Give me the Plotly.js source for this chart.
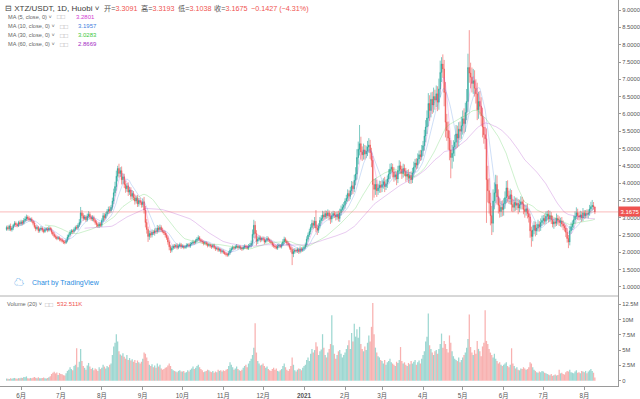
<!DOCTYPE html>
<html><head><meta charset="utf-8">
<script src="https://cdn.plot.ly/plotly-3.0.1.min.js"></script>
<style>html,body{margin:0;padding:0;background:#fff;}#chart{width:640px;height:399px;}</style>
</head><body><div id="chart"></div>
<script>
// ---------- DATA (daily, XTZ/USDT, Huobi) ----------
const startDate = '2020-05-21';
const firstOpen = 2.66;
const close = [
// 2020-05 (21-31)
2.72,2.68,2.76,2.65,2.70,2.78,2.84,2.80,2.77,2.86,2.82,
// 2020-06
2.88,2.84,2.92,2.96,3.02,2.98,2.94,2.96,2.90,2.84,2.74,2.68,2.72,2.62,2.66,2.70,2.64,2.60,2.66,2.68,2.64,2.70,2.66,2.58,2.52,2.46,2.44,2.40,2.42,2.38,
// 2020-07
2.36,2.32,2.30,2.28,2.34,2.44,2.50,2.58,2.62,2.60,2.66,2.72,2.70,2.78,2.86,3.14,3.06,2.98,3.02,2.94,3.04,3.10,3.02,2.96,3.00,2.92,2.86,2.80,2.76,2.82,2.78,
// 2020-08
2.92,3.06,3.00,3.10,3.18,3.24,3.20,3.30,3.48,3.72,3.90,4.20,4.42,4.28,4.36,4.10,4.18,3.96,3.84,3.92,3.74,3.80,3.62,3.70,3.58,3.48,3.56,3.40,3.50,3.44,3.38,
// 2020-09
3.46,3.22,2.86,2.66,2.46,2.54,2.50,2.58,2.56,2.62,2.60,2.70,2.66,2.72,2.64,2.60,2.56,2.50,2.42,2.30,2.16,2.06,2.12,2.18,2.16,2.20,2.14,2.18,2.22,2.16,
// 2020-10
2.18,2.14,2.16,2.20,2.22,2.18,2.24,2.26,2.30,2.28,2.34,2.38,2.42,2.36,2.32,2.30,2.26,2.28,2.24,2.20,2.22,2.18,2.16,2.20,2.14,2.10,2.12,2.06,2.08,2.02,2.04,
// 2020-11
2.00,1.96,1.94,1.92,1.98,2.06,2.10,2.14,2.12,2.16,2.18,2.14,2.16,2.12,2.10,2.14,2.18,2.16,2.12,2.18,2.20,2.26,2.52,2.78,2.54,2.32,2.38,2.42,2.36,2.40,
// 2020-12
2.38,2.30,2.34,2.40,2.36,2.32,2.28,2.22,2.18,2.16,2.12,2.18,2.20,2.16,2.22,2.30,2.38,2.32,2.26,2.22,2.14,2.08,1.96,2.02,2.06,2.04,2.08,2.02,2.10,2.06,2.10,
// 2021-01
2.14,2.22,2.38,2.50,2.60,2.72,2.84,2.78,2.90,2.70,2.64,2.76,2.92,2.98,3.08,3.02,3.12,3.06,3.14,3.04,2.96,3.06,3.12,3.08,3.02,3.10,2.98,3.14,3.24,3.30,3.36,
// 2021-02
3.48,3.56,3.70,3.62,3.78,3.92,3.84,4.08,4.26,4.74,4.98,5.14,4.90,4.82,4.96,4.84,4.92,5.04,5.10,4.88,4.66,3.96,3.82,3.96,3.78,3.86,3.94,3.88,
// 2021-03
3.96,4.04,3.90,3.98,4.12,4.26,4.40,4.46,4.32,4.18,4.24,4.12,4.36,4.50,4.40,4.28,4.42,4.34,4.20,4.26,4.14,4.22,4.10,4.30,4.46,4.58,4.52,4.70,4.82,4.76,4.94,
// 2021-04
5.08,5.36,5.62,5.88,6.30,6.10,6.42,6.26,6.50,6.40,6.58,6.34,6.72,7.20,7.44,7.30,6.62,5.76,5.52,5.30,4.96,4.74,4.86,5.04,5.18,5.42,5.30,5.56,5.50,5.66,
// 2021-05
5.86,5.72,6.04,6.36,7.34,7.18,7.06,6.88,6.96,6.74,6.58,6.12,6.36,6.22,5.94,5.62,5.40,5.28,4.10,3.78,3.42,3.06,2.84,3.48,3.72,3.96,3.60,3.36,3.18,3.30,3.24,
// 2021-06
3.40,3.58,3.86,3.62,3.54,3.66,3.38,3.30,3.44,3.36,3.42,3.28,3.38,3.46,3.40,3.24,3.18,3.26,3.12,3.02,2.62,2.46,2.64,2.78,2.62,2.70,2.80,2.74,2.86,2.92,
// 2021-07
2.98,2.90,3.04,3.10,2.96,3.06,2.94,2.82,2.88,2.84,2.98,2.92,2.86,2.90,2.82,2.76,2.70,2.58,2.40,2.30,2.62,2.74,2.82,2.94,3.04,3.14,3.06,3.02,3.08,3.00,3.14,
// 2021-08 (1-9)
3.06,3.12,3.10,3.1363,3.25,3.32,3.353,3.3102,3.1675
];
// upper wick length above the candle body
const wickUp = [
.05,.06,.04,.07,.05,.04,.06,.05,.04,.05,.06,
.06,.05,.07,.08,.07,.05,.06,.04,.05,.04,.06,.05,.06,.04,.05,.06,.04,.05,.06,.04,.05,.06,.04,.05,.04,.06,.05,.04,.05,.04,
.04,.05,.04,.05,.06,.07,.05,.06,.05,.04,.06,.05,.07,.06,.10,.17,.08,.07,.06,.05,.08,.09,.06,.05,.07,.06,.05,.06,.05,.06,.05,
.06,.08,.07,.06,.07,.08,.09,.07,.10,.12,.14,.16,.08,.14,.10,.12,.10,.09,.11,.08,.10,.09,.08,.10,.07,.09,.08,.10,.07,.08,.06,
.10,.14,.12,.10,.08,.09,.07,.08,.06,.07,.08,.09,.07,.08,.06,.07,.05,.06,.05,.06,.05,.06,.07,.05,.06,.05,.06,.05,.06,.05,
.05,.04,.05,.06,.04,.05,.06,.05,.06,.04,.05,.06,.07,.05,.04,.05,.04,.05,.04,.05,.06,.04,.05,.04,.05,.04,.05,.04,.05,.04,.05,
.04,.05,.04,.05,.06,.07,.05,.06,.04,.05,.06,.04,.05,.04,.05,.06,.05,.04,.05,.06,.07,.08,.14,.16,.12,.10,.08,.07,.06,.05,
.06,.05,.06,.07,.05,.04,.05,.04,.05,.04,.05,.06,.05,.04,.06,.08,.07,.05,.04,.05,.04,.05,.06,.08,.06,.05,.06,.05,.07,.05,.06,
.05,.06,.08,.07,.08,.09,.10,.08,.12,.32,.10,.08,.10,.09,.12,.10,.09,.08,.10,.07,.09,.11,.08,.07,.09,.08,.10,.12,.11,.10,.09,
.08,.10,.12,.09,.11,.14,.12,.16,.20,.24,.22,.54,.20,.16,.18,.14,.16,.18,.20,.15,.14,.12,.16,.18,.14,.12,.13,.12,
.12,.10,.14,.12,.10,.14,.16,.12,.10,.14,.12,.10,.14,.16,.12,.10,.14,.12,.10,.12,.14,.10,.12,.14,.16,.12,.14,.16,.12,.14,.16,
.14,.18,.20,.22,.30,.24,.20,.22,.26,.20,.24,.22,.30,.34,.20,.28,.26,.30,.24,.26,.22,.28,.24,.20,.22,.26,.24,.20,.22,.26,
.24,.30,.28,.36,.40,1.08,.30,.28,.34,.30,.26,.32,.28,.30,.26,.24,.28,.22,.30,.40,.36,.30,.28,.34,.30,.28,.26,.22,.20,.18,.20,
.16,.18,.20,.22,.16,.18,.14,.16,.18,.14,.16,.12,.14,.16,.14,.12,.14,.12,.14,.12,.10,.12,.14,.12,.10,.12,.14,.10,.12,.14,
.10,.12,.14,.10,.12,.14,.10,.12,.10,.12,.14,.10,.12,.10,.12,.10,.08,.10,.12,.10,.14,.12,.10,.12,.14,.16,.12,.10,.12,.10,.14,
.08,.10,.12,.10,.12,.14,.16,.10,.0091
];
// lower wick length below the candle body
const wickDown = [
.04,.05,.06,.04,.05,.06,.04,.07,.05,.04,.05,
.05,.06,.04,.05,.06,.07,.05,.06,.04,.06,.05,.07,.04,.06,.05,.04,.06,.05,.04,.05,.06,.04,.05,.06,.05,.04,.06,.05,.04,.06,
.05,.04,.06,.05,.04,.05,.06,.04,.05,.06,.04,.05,.04,.06,.05,.06,.08,.07,.05,.06,.05,.06,.07,.05,.06,.05,.06,.07,.05,.06,.05,
.05,.06,.08,.05,.06,.07,.08,.06,.07,.09,.10,.12,.15,.12,.10,.14,.12,.10,.12,.09,.11,.08,.10,.09,.08,.10,.07,.09,.08,.07,.09,
.08,.10,.14,.12,.16,.10,.08,.07,.06,.08,.07,.06,.08,.07,.06,.05,.06,.07,.06,.08,.10,.08,.06,.05,.06,.05,.06,.05,.04,.06,
.04,.05,.04,.05,.06,.04,.05,.04,.05,.06,.04,.05,.06,.05,.04,.05,.06,.04,.05,.06,.04,.05,.06,.04,.05,.06,.04,.05,.04,.06,.05,
.05,.04,.06,.05,.04,.05,.06,.04,.05,.04,.05,.06,.04,.05,.06,.04,.05,.06,.04,.05,.04,.06,.07,.10,.14,.12,.08,.06,.07,.05,
.05,.06,.04,.05,.06,.05,.04,.06,.05,.06,.04,.05,.06,.04,.05,.04,.06,.05,.06,.05,.06,.08,.33,.10,.06,.05,.06,.07,.05,.06,.05,
.06,.05,.06,.07,.06,.08,.07,.10,.08,.12,.14,.08,.07,.09,.08,.10,.07,.09,.08,.12,.14,.10,.08,.09,.10,.08,.09,.10,.08,.07,.10,
.10,.08,.10,.14,.09,.12,.16,.10,.14,.16,.20,.18,.22,.18,.14,.16,.12,.14,.16,.18,.20,.46,.24,.16,.18,.12,.14,.16,
.14,.12,.16,.10,.12,.10,.14,.12,.16,.14,.10,.18,.12,.10,.14,.16,.12,.14,.16,.12,.14,.16,.12,.10,.12,.14,.12,.10,.14,.12,.10,
.16,.14,.18,.20,.24,.30,.20,.26,.22,.28,.20,.26,.22,.24,.28,.26,.40,.44,.30,.34,.30,.60,.32,.24,.26,.20,.28,.24,.26,.22,
.26,.28,.24,.22,.30,.28,.32,.26,.30,.24,.28,.30,.26,.24,.28,.30,.26,.30,1.25,.34,.30,.28,.34,.26,.24,.30,.22,.24,.18,.16,.20,
.18,.14,.16,.18,.14,.16,.20,.14,.12,.16,.14,.18,.12,.14,.16,.14,.18,.12,.14,.16,.20,.30,.14,.12,.16,.12,.10,.14,.12,.10,
.12,.10,.08,.12,.10,.08,.12,.10,.14,.10,.08,.12,.10,.12,.10,.12,.10,.14,.12,.18,.10,.08,.10,.12,.10,.08,.12,.10,.08,.12,.10,
.10,.08,.10,.12,.08,.10,.12,.08,.0637
];
// daily volume, millions
const volumeM = [
.35,.30,.28,.40,.32,.38,.45,.36,.30,.42,.38,
.50,.45,.60,.55,.70,.40,.35,.45,.38,.50,.62,.48,.40,.55,.42,.38,.46,.52,.40,.36,.44,.58,.72,1.10,1.30,1.45,1.20,1.35,.95,1.25,
1.10,1.05,.90,.85,1.20,1.60,1.80,2.20,1.90,1.70,2.40,2.60,5.30,2.20,3.10,5.20,3.20,2.40,2.10,1.80,2.50,2.90,2.30,1.90,2.10,1.70,2.00,1.85,1.60,2.20,1.90,
2.10,2.60,2.30,2.00,2.40,2.20,2.60,2.80,4.20,5.60,6.20,7.60,6.40,4.80,4.30,4.10,4.50,3.90,3.60,4.20,3.40,3.70,3.30,3.50,3.10,3.40,2.90,3.30,3.00,2.80,3.10,
3.60,4.60,4.40,3.80,3.20,2.60,2.40,2.70,2.20,2.50,2.10,2.80,2.30,2.60,2.00,1.80,1.90,2.10,2.20,2.50,2.80,2.40,1.90,1.70,1.60,1.50,1.40,1.60,1.70,1.50,
1.50,1.60,1.30,1.40,1.70,1.50,1.80,2.00,2.30,1.90,2.10,2.40,2.60,2.20,1.90,1.70,1.40,1.50,1.60,1.80,1.70,1.50,1.40,1.60,1.30,1.50,1.40,1.80,1.60,1.70,1.50,
1.70,1.60,1.80,1.90,2.40,3.00,2.60,2.20,1.80,2.00,2.30,1.90,1.70,1.60,1.80,2.10,2.40,2.60,2.20,2.80,3.20,3.60,4.20,5.40,9.40,4.60,3.20,2.80,2.50,2.60,
2.80,2.40,2.10,2.30,1.90,1.70,1.60,1.90,2.10,1.80,2.00,1.60,1.50,1.70,1.90,2.40,2.80,2.20,1.80,1.60,1.90,2.40,3.80,2.60,1.70,1.50,1.80,2.00,1.90,1.70,2.10,
2.40,2.60,3.40,3.80,3.20,4.40,5.20,4.60,5.00,6.30,5.60,4.20,4.80,5.10,7.60,5.40,4.20,3.80,4.60,5.20,6.00,10.70,5.80,4.40,3.60,4.20,4.80,5.00,4.40,3.80,4.20,
4.60,5.20,5.80,6.60,5.20,7.80,6.40,9.30,7.20,8.40,7.00,8.80,6.00,5.20,4.80,5.60,5.00,6.20,7.40,6.40,8.80,12.70,7.60,5.40,4.60,4.00,3.80,3.40,
3.20,2.80,3.40,2.60,3.00,3.20,3.60,3.00,2.80,2.60,2.40,3.10,2.90,3.40,5.50,3.20,2.80,3.00,2.60,2.40,2.90,2.70,3.20,2.80,3.10,3.40,2.60,3.00,3.30,2.80,3.60,
4.20,4.80,6.40,7.20,11.00,5.80,5.20,4.60,4.20,4.80,5.00,4.40,5.20,6.00,7.70,5.40,6.50,6.00,5.20,4.60,7.40,6.20,4.80,4.00,3.60,3.40,3.20,3.80,3.00,3.40,
3.80,4.20,4.60,5.40,6.80,10.80,5.50,4.60,4.20,5.00,4.40,6.50,5.20,4.80,4.00,5.60,6.20,11.50,6.50,6.00,5.20,4.60,4.20,3.80,4.40,3.60,3.20,2.80,3.00,2.60,2.40,
2.60,2.80,3.00,2.40,2.20,2.60,5.30,2.80,2.40,2.00,2.20,1.80,1.70,2.00,1.90,2.20,2.00,1.80,1.90,2.20,3.00,2.80,2.20,1.80,1.60,1.40,1.30,1.50,1.40,1.60,
1.50,1.30,1.20,1.10,1.00,.90,1.10,.80,.90,1.00,.85,.95,1.80,1.20,1.30,1.10,1.00,1.40,1.60,1.50,1.80,1.40,1.30,1.20,1.50,1.70,1.30,1.40,1.20,1.60,1.50,
1.40,1.60,1.20,1.50,1.70,1.90,1.60,1.30,.532511
];
const monthTicks = ['2020-06-01','2020-07-01','2020-08-01','2020-09-01','2020-10-01','2020-11-01','2020-12-01','2021-01-01','2021-02-01','2021-03-01','2021-04-01','2021-05-01','2021-06-01','2021-07-01','2021-08-01'];
const monthLabels = ['6月','7月','8月','9月','10月','11月','12月','<b>2021</b>','2月','3月','4月','5月','6月','7月','8月'];
const volTickVals = [0,2.5,5,7.5,10,12.5];
const volTickText = ['0','2.5M','5M','7.5M','10M','12.5M'];
const headerOHLC = ['3.3091','3.3193','3.1038','3.1675'];
const headerChange = '−0.1427 (−4.31%)';
const maPeriods = [5,10,30,60];
const maLegendValues = ['3.2801','3.1957','3.0283','2.8669'];
const maColors = ['#d23cd2','#3f7fe0','#3cc83c','#a32cc4'];
const lastVolumeText = '532.511K';

// ---------- derived series ----------
const dates = [];
{ const d0 = new Date(startDate + 'T00:00:00Z');
  for (let i = 0; i < close.length; i++) { const d = new Date(d0.getTime() + i * 86400000); dates.push(d.toISOString().slice(0,10)); } }
// a 24h market: each day opens at the previous day's close
const open = close.map((c, i) => i === 0 ? firstOpen : close[i-1]);
const high = close.map((c, i) => Math.max(open[i], c) + wickUp[i]);
const low = close.map((c, i) => Math.min(open[i], c) - wickDown[i]);
const UP = '#26a69a', DN = '#ef5350';
const volColors = close.map((c, i) => c >= open[i] ? 'rgba(38,166,154,0.45)' : 'rgba(239,83,80,0.45)');
function sma(n) { return close.map((c, i) => { if (i < n-1) return null; let s = 0; for (let k = i-n+1; k <= i; k++) s += close[k]; return s/n; }); }

// ---------- layout helpers (pixel -> paper) ----------
const W = 640, H = 399, ML = 0, MR = 22, MT = 0, MB = 13;
const PW = W-ML-MR, PH = H-MT-MB;
const px = x => (x-ML)/PW, py = y => 1-(y-MT)/PH;
const split = py(296);
const FONT = 'Liberation Sans, Arial, Noto Sans CJK SC, sans-serif';

const traces = [];
traces.push({type:'candlestick', x:dates, open:open, high:high, low:low, close:close,
  increasing:{line:{color:UP,width:0.6}, fillcolor:UP}, decreasing:{line:{color:DN,width:0.6}, fillcolor:DN},
  whiskerwidth:0, hoverinfo:'skip', showlegend:false, xaxis:'x', yaxis:'y'});
maPeriods.forEach((n, j) => traces.push({type:'scatter', mode:'lines', x:dates, y:sma(n),
  line:{color:maColors[j], width:1}, opacity:0.25, hoverinfo:'skip', showlegend:false, xaxis:'x', yaxis:'y'}));
traces.push({type:'bar', x:dates, y:volumeM, marker:{color:volColors, line:{width:0}}, hoverinfo:'skip', showlegend:false, xaxis:'x', yaxis:'y2'});

const last = close.length-1;
const ann = [];
function a(x, y, text, size, color, extra) { ann.push(Object.assign({xref:'paper', yref:'paper', x:px(x), y:py(y), text:text, showarrow:false, xanchor:'left', yanchor:'middle', borderpad:0, font:{family:FONT, size:size, color:color}}, extra||{})); }
const red = s => '<span style="color:#ef5350">' + s + '</span>';
a(4, 8.5, '⊟ XTZ/USDT, 1D, Huobi ˅', 8, '#3a3a3a');
a(103, 8.5, '开=' + red(headerOHLC[0]), 7.2, '#555');
a(140, 8.5, '高=' + red(headerOHLC[1]), 7.2, '#555');
a(176.5, 8.5, '低=' + red(headerOHLC[2]), 7.2, '#555');
a(213, 8.5, '收=' + red(headerOHLC[3]), 7.2, '#555');
a(250, 8.5, red(headerChange), 7.2, '#555');
const maRowY = [16.7, 26, 35.2, 44.3];
maPeriods.forEach((n, j) => {
  a(7, maRowY[j], 'MA (' + n + ', close, 0) ˅', 5.6, '#666');
  a(n < 10 ? 56 : 59, maRowY[j], '□□', 6.5, '#aaa');
  a(n < 10 ? 75 : 77, maRowY[j], maLegendValues[j], 6, maColors[j]);
});
a(13, 282.5, '☁', 10, '#2a8ddf');
a(31, 282.5, 'Chart by TradingView', 7, '#2a8ddf');
a(6, 304, 'Volume (20) ˅', 5.6, '#666');
a(44, 304, '□□', 6.5, '#aaa');
a(56, 304, red(lastVolumeText), 6, '#ef5350');
ann.push({xref:'paper', yref:'y', x:1, y:close[last], xanchor:'left', yanchor:'middle', xshift:0, text:close[last].toFixed(4),
  showarrow:false, bgcolor:'#ef5350', borderpad:1.5, font:{family:FONT, size:6, color:'#fff'}});

const axisTickFont = {family:FONT, size:5.8, color:'#555'};
const layout = {
  width:W, height:H, margin:{l:ML, r:MR, t:MT, b:MB}, paper_bgcolor:'#fff', plot_bgcolor:'#fff',
  showlegend:false, bargap:0.05, dragmode:false,
  xaxis:{type:'date', range:['2020-05-16','2021-08-26 12:00'], anchor:'y2', rangeslider:{visible:false},
    showgrid:false, zeroline:false, showline:true, linecolor:'#9a9a9a', linewidth:1,
    ticks:'outside', ticklen:3, tickcolor:'#9a9a9a', tickvals:monthTicks, ticktext:monthLabels,
    tickfont:{family:FONT, size:6.3, color:'#555'}},
  yaxis:{domain:[split, 1], range:[0.737, 9.292], side:'right', anchor:'x', showgrid:false, zeroline:false,
    showline:true, linecolor:'#9a9a9a', linewidth:1, ticks:'outside', ticklen:2, tickcolor:'#9a9a9a',
    tick0:0, dtick:0.5, tickformat:'.4f', tickfont:axisTickFont},
  yaxis2:{domain:[0, split], range:[-0.866, 13.84], side:'right', anchor:'x', showgrid:false, zeroline:false,
    showline:true, linecolor:'#9a9a9a', linewidth:1, ticks:'outside', ticklen:2, tickcolor:'#9a9a9a',
    tickvals:volTickVals, ticktext:volTickText, tickfont:axisTickFont},
  shapes:[
    {type:'line', xref:'paper', yref:'paper', x0:0, x1:1, y0:split, y1:split, line:{color:'#b0b0b0', width:1}},
    {type:'line', xref:'paper', yref:'y', x0:0, x1:1, y0:close[last], y1:close[last], line:{color:'rgba(239,83,80,0.4)', width:1}}
  ],
  annotations:ann
};
Plotly.newPlot('chart', traces, layout, {staticPlot:true, displayModeBar:false});
</script></body></html>
